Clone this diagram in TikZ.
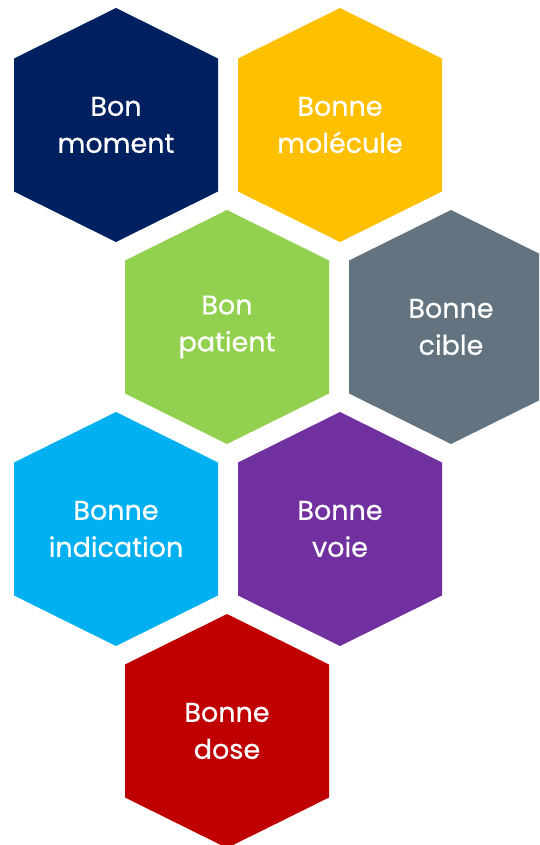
\documentclass[tikz,border=0pt]{standalone}
\usepackage{fontspec}
\setmainfont{Poppins}[FakeBold=0.6,BoldFont=*]
\usepackage{xcolor}
\usepackage{tikz}
\definecolor{hxnavy}{HTML}{002060}
\definecolor{hxgold}{HTML}{FFC000}
\definecolor{hxgreen}{HTML}{92D050}
\definecolor{hxslate}{HTML}{637480}
\definecolor{hxsky}{HTML}{00B0F0}
\definecolor{hxpurple}{HTML}{7030A0}
\definecolor{hxred}{HTML}{C00000}
\tikzset{
  hexfill/.style={fill=#1,draw=none},
  hexlabel/.style={align=center,text=white,font=\fontsize{27}{37}\selectfont\bfseries,inner sep=0pt},
}
% one cell: fill a tall hexagon around (x,y) and put its label on top
\newcommand{\hexcell}[5]{%
  \fill[hexfill=#4] (#2,#3) +(0,-117) -- +(102,-66.5) -- +(102,66.5) -- +(0,117)
    -- +(-102,66.5) -- +(-102,-66.5) -- cycle;
  \node[hexlabel] (#1) at (#2,#3) {#5};
}

\begin{document}
\begin{tikzpicture}[x=1pt,y=-1pt]
  \useasboundingbox (0,0) rectangle (539,845);
  \clip (0,0) rectangle (539,845);
  \hexcell{nMoment}{116}{125}{hxnavy}{Bon\\moment}
  \hexcell{nMolecule}{340}{125}{hxgold}{Bonne\\molécule}
  \hexcell{nPatient}{227}{327}{hxgreen}{Bon\\patient}
  \hexcell{nCible}{451}{327}{hxslate}{Bonne\\cible}
  \hexcell{nIndication}{116}{529}{hxsky}{Bonne\\indication}
  \hexcell{nVoie}{340}{529}{hxpurple}{Bonne\\voie}
  \hexcell{nDose}{227}{731}{hxred}{Bonne\\dose}
\end{tikzpicture}
\end{document}
